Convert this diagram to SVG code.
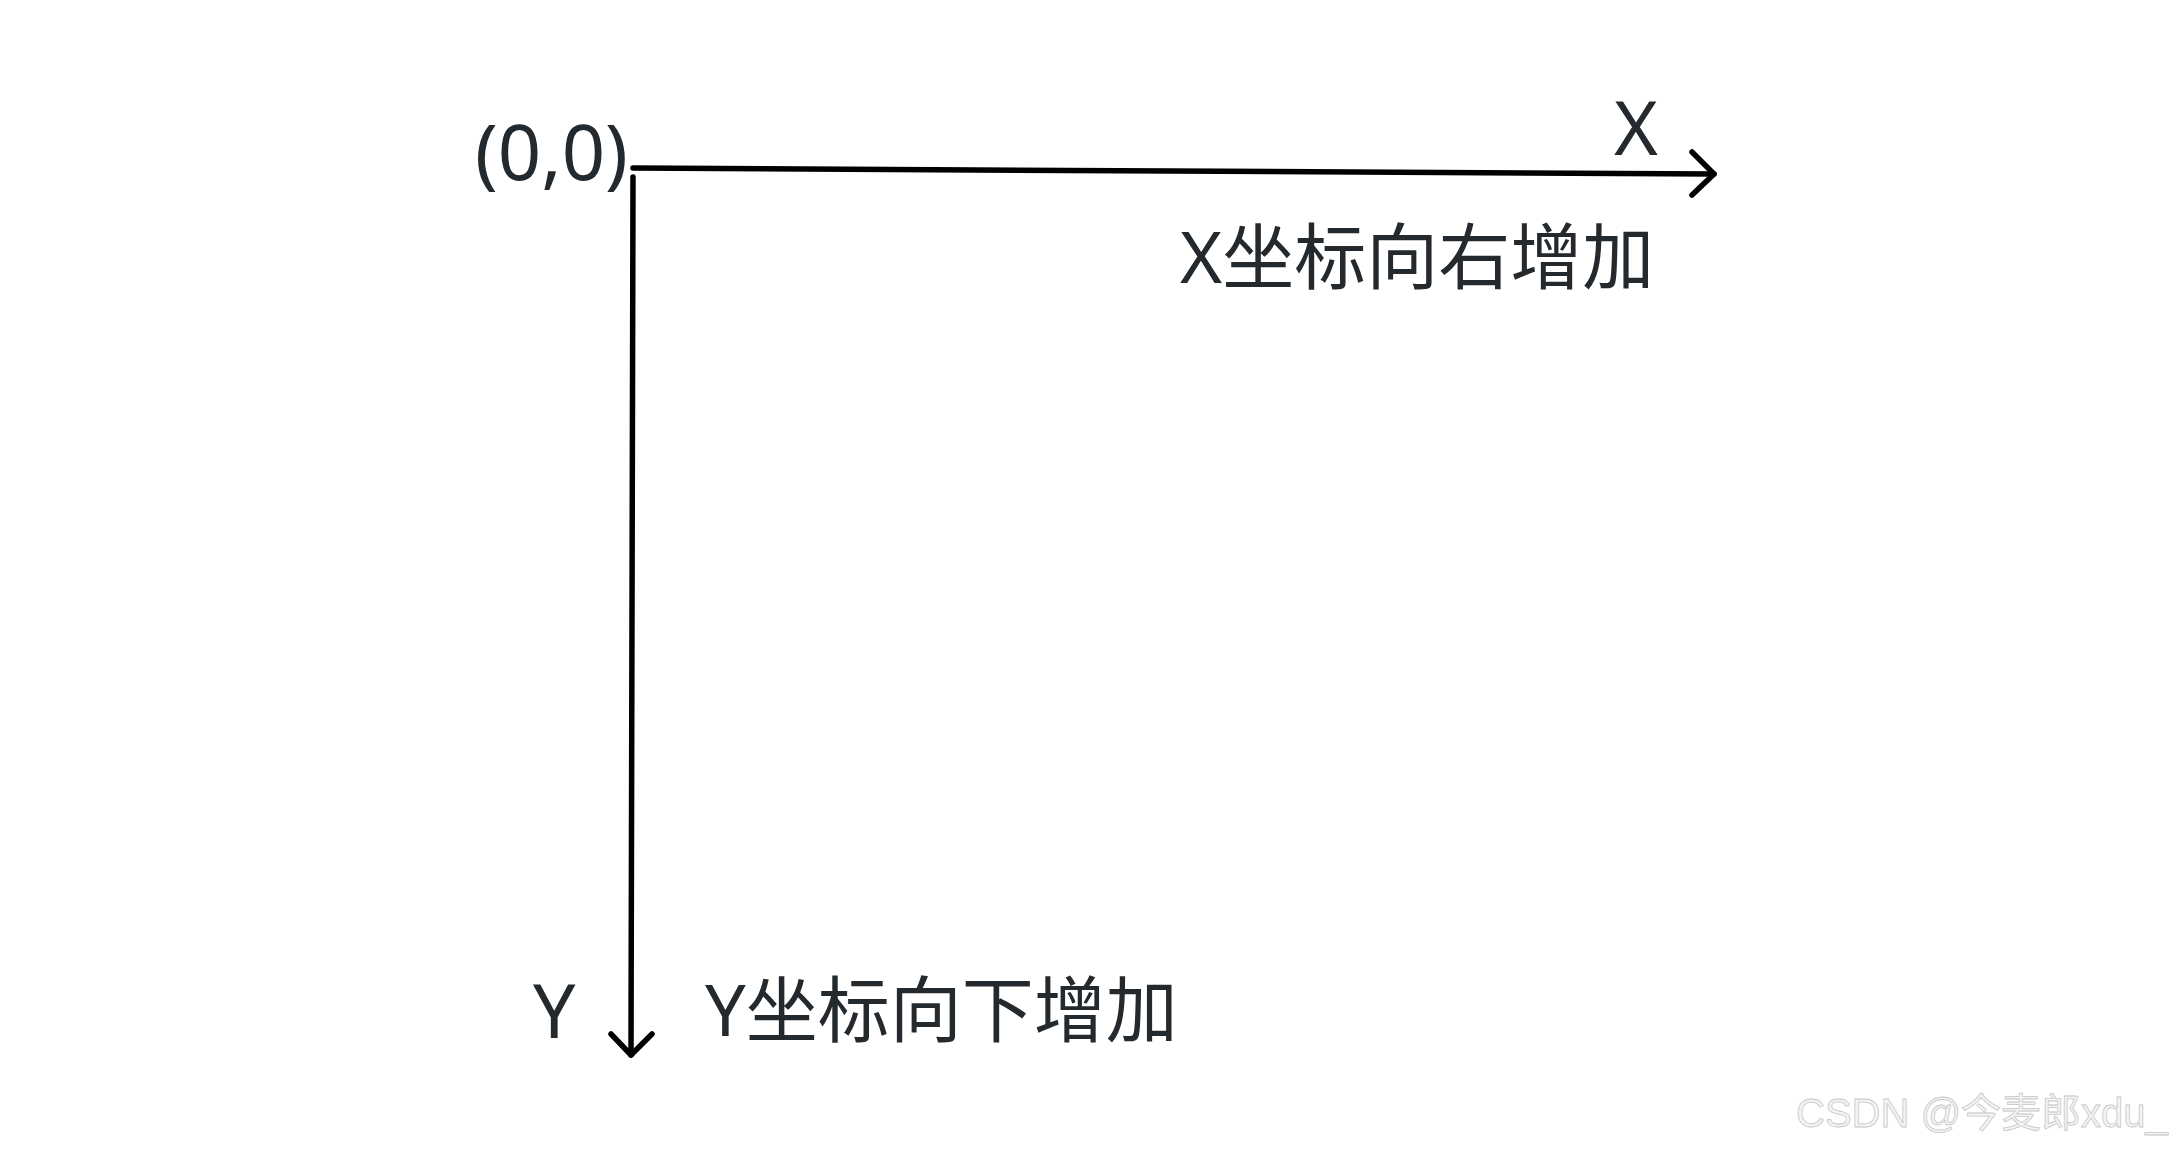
<svg xmlns="http://www.w3.org/2000/svg" width="2171" height="1152" viewBox="0 0 2171 1152">
  <style>
    .lbl { font-family: "Noto Sans", "Noto Sans CJK SC", sans-serif; fill: #24292e; }
    .axis { fill: none; stroke: #000; stroke-width: 5.5; stroke-linecap: round; stroke-linejoin: round; }
    .wm { font-family: "Liberation Sans", "Noto Sans CJK SC", sans-serif; font-size: 40px; fill: #f4f4f4; stroke: #c8c8c8; stroke-width: 0.8; }
  </style>
  <rect width="2171" height="1152" fill="#ffffff"/>
  <g id="connectors">
    <path class="axis" d="M633 168 Q1100 170 1714 174"/>
    <path class="axis" d="M1692 152 L1714 174 L1692 195"/>
    <path class="axis" d="M633 177 Q632 600 631 1055"/>
    <path class="axis" d="M611 1034 L631 1055 L652 1034"/>
  </g>
  <g id="origin"><text class="lbl" x="475" y="180" font-size="76">(0,0)</text></g>
  <g id="x-label"><text class="lbl" x="1614" y="155" font-size="75">X</text></g>
  <g id="x-desc"><text class="lbl" x="1180" y="283" font-size="72">X坐标向右增加</text></g>
  <g id="y-label"><text class="lbl" x="533" y="1038" font-size="75">Y</text></g>
  <g id="y-desc"><text class="lbl" x="705" y="1036" font-size="72">Y坐标向下增加</text></g>
  <g id="watermark"><text class="wm" x="1796" y="1127">CSDN @今麦郎xdu_</text></g>
</svg>
